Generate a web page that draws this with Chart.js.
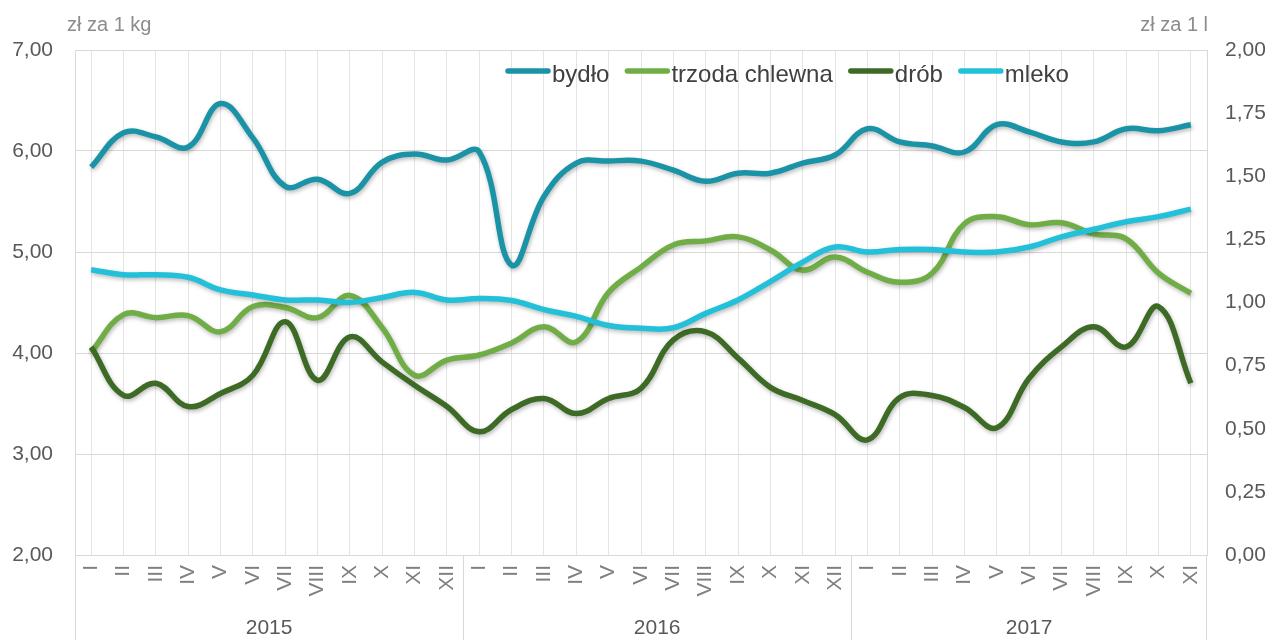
<!DOCTYPE html>
<html>
<head>
<meta charset="utf-8">
<script src="https://cdn.jsdelivr.net/npm/chart.js@4"></script>
<style>
    body { margin: 0; background: #fff; }
    #wrap { width: 1269px; height: 640px; }
</style>
</head>
<body>
<div id="wrap"><canvas id="priceChart"></canvas></div>
<script>
const months = ["I", "II", "III", "IV", "V", "VI", "VII", "VIII", "IX", "X", "XI", "XII"];
const years = ["2015", "2016", "2017"];
const monthsPerYear = [12, 12, 11];

const bydlo = [5.84, 6.18, 6.14, 6.04, 6.47, 6.13, 5.65, 5.72, 5.58, 5.89, 5.97, 5.91,
    5.99, 4.87, 5.55, 5.88, 5.90, 5.90, 5.81, 5.70, 5.78, 5.78, 5.88, 5.96,
    6.22, 6.09, 6.05, 5.99, 6.26, 6.19, 6.09, 6.09, 6.22, 6.20, 6.26];
const trzoda = [4.01, 4.38, 4.35, 4.37, 4.21, 4.46, 4.45, 4.35, 4.57, 4.25, 3.78, 3.93,
    3.98, 4.10, 4.26, 4.11, 4.60, 4.85, 5.07, 5.11, 5.15, 5.02, 4.82, 4.95,
    4.80, 4.70, 4.79, 5.28, 5.35, 5.27, 5.29, 5.18, 5.13, 4.79, 4.59];
const drob = [4.06, 3.58, 3.70, 3.47, 3.60, 3.78, 4.31, 3.73, 4.16, 3.91, 3.68, 3.47,
    3.22, 3.44, 3.55, 3.40, 3.55, 3.65, 4.13, 4.21, 3.95, 3.66, 3.53, 3.39,
    3.14, 3.56, 3.58, 3.46, 3.26, 3.75, 4.06, 4.26, 4.06, 4.46, 3.70];
const mleko = [1.13, 1.11, 1.11, 1.10, 1.05, 1.03, 1.01, 1.01, 1.00, 1.02, 1.04, 1.01,
    1.016, 1.008, 0.972, 0.945, 0.909, 0.898, 0.90, 0.957, 1.01, 1.083, 1.16, 1.22,
    1.20, 1.21, 1.21, 1.20, 1.20, 1.22, 1.26, 1.29, 1.32, 1.34, 1.37];

const leftTitle = "zł za 1 kg";
const rightTitle = "zł za 1 l";

const FONT = "'Liberation Sans', Arial, sans-serif";
const GRID = "#d9d9d9";

// one label per month, years given by monthsPerYear
const labels = [];
monthsPerYear.forEach(n => { for (let i = 0; i < n; i++) labels.push(months[i]); });

const fmt = v => v.toFixed(2).replace(".", ",");

// soft shadow under each line, like the original
const shadowPlugin = {
    id: "shadow",
    beforeDatasetDraw(chart) {
        const ctx = chart.ctx;
        ctx.save();
        ctx.shadowColor = "rgba(0,0,0,0.28)";
        ctx.shadowBlur = 4;
        ctx.shadowOffsetX = 1;
        ctx.shadowOffsetY = 2;
    },
    afterDatasetDraw(chart) {
        chart.ctx.restore();
    }
};

// unit titles, legend inside the plot, year level of the category axis
const extrasPlugin = {
    id: "extras",
    afterDraw(chart) {
        const ctx = chart.ctx;
        const area = chart.chartArea;
        const x = chart.scales.x;
        const bottom = chart.height;

        ctx.save();
        ctx.font = "20px " + FONT;
        ctx.fillStyle = "#8c8c8c";
        ctx.textBaseline = "alphabetic";
        ctx.textAlign = "left";
        ctx.fillText(leftTitle, area.left - 8, 31);
        ctx.textAlign = "right";
        ctx.fillText(rightTitle, area.right + 1, 31);

        // year level
        ctx.strokeStyle = GRID;
        ctx.lineWidth = 1;
        ctx.beginPath();
        ctx.moveTo(area.left + 0.5, area.bottom);
        ctx.lineTo(area.left + 0.5, bottom);
        ctx.moveTo(area.right - 0.5, area.bottom);
        ctx.lineTo(area.right - 0.5, bottom);
        let start = 0;
        ctx.font = "21px " + FONT;
        ctx.fillStyle = "#595959";
        ctx.textAlign = "center";
        ctx.textBaseline = "middle";
        monthsPerYear.forEach((n, k) => {
            const end = start + n - 1;
            const cx = (x.getPixelForValue(start) + x.getPixelForValue(end)) / 2;
            ctx.fillText(years[k], cx, 628);
            if (k < monthsPerYear.length - 1) {
                const sx = Math.round((x.getPixelForValue(end) + x.getPixelForValue(end + 1)) / 2) + 0.5;
                ctx.moveTo(sx, area.bottom);
                ctx.lineTo(sx, bottom);
            }
            start += n;
        });
        ctx.stroke();

        // legend
        ctx.font = "24px " + FONT;
        ctx.textAlign = "left";
        ctx.textBaseline = "alphabetic";
        let lx = 505;
        chart.data.datasets.forEach(ds => {
            ctx.strokeStyle = ds.borderColor;
            ctx.lineWidth = 5.5;
            ctx.lineCap = "round";
            ctx.beginPath();
            ctx.moveTo(lx + 3, 71);
            ctx.lineTo(lx + 43, 71);
            ctx.stroke();
            ctx.fillStyle = "#404040";
            ctx.fillText(ds.label, lx + 47, 82);
            lx += 47 + ctx.measureText(ds.label).width + 15;
        });
        ctx.restore();
    }
};

const line = (label, data, color, axis, order) => ({
    label: label,
    data: data,
    yAxisID: axis,
    borderColor: color,
    backgroundColor: color,
    borderWidth: 5.5,
    pointRadius: 0,
    tension: 0.4,
    fill: false,
    order: order
});

const ctx = document.getElementById("priceChart").getContext("2d");
const chart = new Chart(ctx, {
    type: "line",
    data: {
        labels: labels,
        datasets: [
            line("bydło", bydlo, "#1b93a6", "y", 3),
            line("trzoda chlewna", trzoda, "#70ad47", "y", 2),
            line("drób", drob, "#3d6b25", "y", 1),
            line("mleko", mleko, "#22c1d9", "y1", 0)
        ]
    },
    options: {
        responsive: true,
        maintainAspectRatio: false,
        animation: false,
        layout: { padding: { top: 50, left: 0, right: 0, bottom: 0 } },
        plugins: {
            legend: { display: false },
            tooltip: { enabled: false }
        },
        scales: {
            x: {
                offset: true,
                afterFit(scale) { scale.height = 85; },
                grid: { color: "#e4e4e4", drawTicks: false, offset: false },
                border: { display: true, color: GRID },
                ticks: {
                    autoSkip: false,
                    minRotation: 90,
                    maxRotation: 90,
                    padding: 10,
                    color: "#7f7f7f",
                    font: { family: FONT, size: 21 }
                }
            },
            y: {
                position: "left",
                min: 2,
                max: 7,
                afterFit(scale) { scale.width = 75; },
                grid: { color: GRID, drawTicks: false },
                border: { display: true, color: GRID },
                ticks: {
                    stepSize: 1,
                    padding: 22,
                    color: "#595959",
                    font: { family: FONT, size: 21 },
                    callback: v => fmt(v)
                }
            },
            y1: {
                position: "right",
                min: 0,
                max: 2,
                afterFit(scale) { scale.width = 62; },
                grid: { display: false, drawTicks: false },
                border: { display: true, color: GRID },
                ticks: {
                    stepSize: 0.25,
                    padding: 18,
                    color: "#595959",
                    font: { family: FONT, size: 21 },
                    callback: v => fmt(v)
                }
            }
        }
    },
    plugins: [shadowPlugin, extrasPlugin]
});
</script>
</body>
</html>
